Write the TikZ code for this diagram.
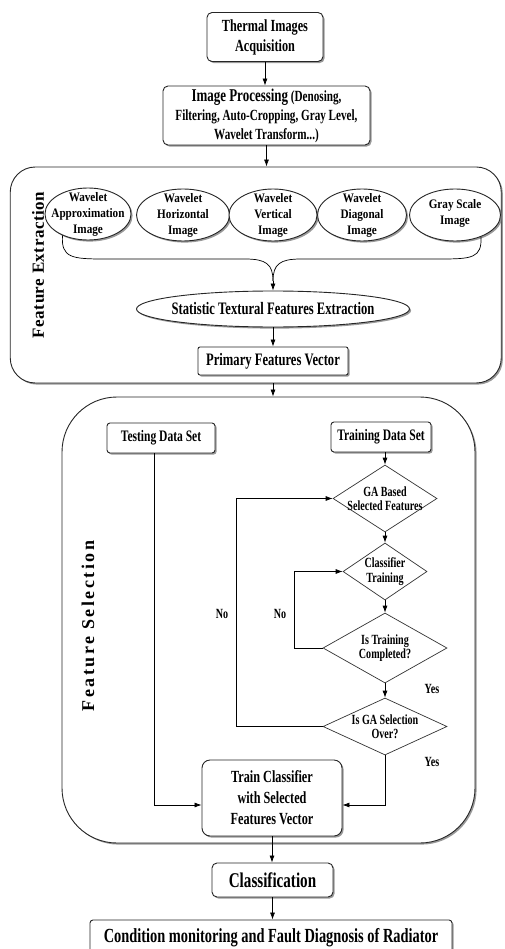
\documentclass[tikz,border=0pt]{standalone}
\usepackage{fontspec}
\setmainfont{Liberation Serif}[FakeStretch=0.72]
\newfontfamily\efont{Liberation Serif}[FakeStretch=0.86]
\newfontfamily\vafont{Liberation Serif}[LetterSpace=3]
\newfontfamily\vbfont{Liberation Serif}[LetterSpace=14]
\usetikzlibrary{shapes.geometric,shadows,arrows.meta}
\begin{document}
\begin{tikzpicture}[x=1pt,y=-1pt,
  shad/.style={drop shadow={shadow xshift=1.6pt,shadow yshift=-1.6pt,fill=black!50,opacity=0.8}},
  box/.style={draw=black!85,line width=0.9pt,rounded corners=5pt,fill=white,shad,align=center,inner sep=0pt},
  ell/.style={ellipse,draw=black!85,line width=0.9pt,fill=white,shad,inner sep=0pt},
  cont/.style={draw=black!85,line width=0.9pt,fill=white,shad,inner sep=0pt},
  dia/.style={diamond,draw=black!80,line width=0.7pt,inner sep=0pt},
  dtext/.style={align=center,inner sep=0pt,font=\fontsize{14}{14}\selectfont\bfseries},
  lab/.style={inner sep=0pt,font=\fontsize{14}{14}\selectfont\bfseries},
  etext/.style={align=center,inner sep=0pt,font=\efont\fontsize{13}{16}\selectfont\bfseries},
  arr/.style={-{Latex[length=7pt,width=5pt]},line width=0.7pt},
  ln/.style={line width=0.7pt}]
\useasboundingbox (0,0) rectangle (504,949);

% containers
\node[cont,rounded corners=25pt,minimum width=491,minimum height=216] (fe) at (255.75,275) {};
\node[cont,rounded corners=55pt,minimum width=413,minimum height=446] (fs) at (268.5,620) {};

% top boxes
\node[box,minimum width=116,minimum height=49,font=\fontsize{17}{20}\selectfont\bfseries] (ta) at (265,37) {Thermal Images\\Acquisition};
\node[box,minimum width=207,minimum height=59,font=\fontsize{15.5}{19}\selectfont\bfseries] (ip) at (266.5,115.5)
  {{\fontsize{18}{19}\selectfont Image Processing} (Denosing,\\Filtering, Auto-Cropping, Gray Level,\\Wavelet Transform...)};

% feature extraction
\node[ell,minimum width=86,minimum height=52] (e1) at (88,214) {};
\node[etext] at (e1) {Wavelet\\Approximation\\Image};
\node[ell,minimum width=93,minimum height=52] (e2) at (183,215) {};
\node[etext] at (e2) {Wavelet\\Horizontal\\Image};
\node[ell,minimum width=88,minimum height=52] (e3) at (273,215) {};
\node[etext] at (e3) {Wavelet\\Vertical\\Image};
\node[ell,minimum width=89,minimum height=52] (e4) at (362,215) {};
\node[etext] at (e4) {Wavelet\\Diagonal\\Image};
\node[ell,minimum width=91,minimum height=52] (e5) at (455,215) {};
\node[etext] at ([yshift=2pt]e5.center) {Gray Scale\\Image};
\node[ell,minimum width=273,minimum height=36] (st) at (273,309) {};
\node[inner sep=0pt,font=\fontsize{17.5}{20}\selectfont\bfseries] at (st) {Statistic Textural Features Extraction};
\node[box,rounded corners=2pt,minimum width=150,minimum height=28,font=\fontsize{17.5}{20}\selectfont\bfseries] (pv) at (273,361) {Primary Features Vector};
\node[rotate=90,inner sep=0pt,font=\vafont\fontsize{17}{17}\selectfont\bfseries] (fel) at (38,265) {Feature Extraction};
\coordinate (j) at (273,281);
\draw[ln] (e1.-140) .. controls (61,258) and (72,259) .. (105,259) -- (245,259) .. controls (266,259) and (273,264) .. (j);
\draw[ln] (e5.-40) .. controls (482,258) and (472,259) .. (440,259) -- (301,259) .. controls (280,259) and (273,264) .. (j);
\draw[arr] (j) -- (st.north);
\draw[arr] (st) -- (pv);

% feature selection
\node[rotate=90,font=\vbfont\fontsize{18}{18}\selectfont\bfseries] (fsl) at (88,626) {Feature Selection};
\node[box,rounded corners=3pt,minimum width=108,minimum height=30,font=\fontsize{16}{18}\selectfont\bfseries] (tds) at (161,438) {Testing Data Set};
\node[box,rounded corners=3pt,minimum width=100,minimum height=30,font=\fontsize{16}{18}\selectfont\bfseries] (trs) at (381,437) {Training Data Set};
\node[dia,minimum width=104,minimum height=67] (ga) at (385,498.5) {};
\node[dtext] at (ga) {GA Based\\Selected Features};
\node[dia,minimum width=84,minimum height=57] (ct) at (385,571.5) {};
\node[dtext,font=\fontsize{14}{15}\selectfont\bfseries] at (ct) {Classifier\\Training};
\node[dia,minimum width=124,minimum height=70] (tc) at (385,648) {};
\node[dtext] at (tc) {Is Training\\Completed?};
\node[dia,minimum width=124,minimum height=57] (go) at (385,726.5) {};
\node[dtext] at (go) {Is GA Selection\\Over?};
\node[box,rounded corners=8pt,minimum width=140,minimum height=76,font=\fontsize{17}{21}\selectfont\bfseries] (tcl) at (272,798) {Train Classifier\\with Selected\\Features Vector};
\node[lab] (no1) at (222,614) {No};
\node[lab] (no2) at (280,614) {No};
\node[lab] (y1) at (432,689) {Yes};
\node[lab] (y2) at (432,762) {Yes};

\draw[arr] (trs.south -| ga.north) -- (ga.north);
\draw[arr] (ga) -- (ct);
\draw[arr] (ct) -- (tc);
\draw[arr] (tc) -- (go);
\draw[arr] (tc.west) -- ++(-28,0) |- (ct.west);
\draw[arr] (go.west) -- ++(-86,0) |- (ga.west);
\draw[arr] (go.south) |- ([yshift=-7pt]tcl.east);
\draw[arr] ([xshift=-7pt]tds.south) |- ([yshift=-7pt]tcl.west);

% bottom
\node[box,minimum width=121,minimum height=34,font=\fontsize{21}{24}\selectfont\bfseries] (cls) at (272.5,880) {Classification};
\node[box,rounded corners=3pt,minimum width=362,minimum height=36,font=\fontsize{20}{22}\selectfont\bfseries] (cm) at (271,938) {Condition monitoring and Fault Diagnosis of Radiator};

\draw[arr] (ta.south) -- (ta.south |- ip.north);
\draw[arr] (ip.south) -- (ip.south |- fe.north);
\draw[arr] (pv.south |- fe.south) -- (pv.south |- fs.north);
\draw[arr] (tcl.south) -- (tcl.south |- cls.north);
\draw[arr] (cls.south) -- (cls.south |- cm.north);
\end{tikzpicture}
\end{document}
